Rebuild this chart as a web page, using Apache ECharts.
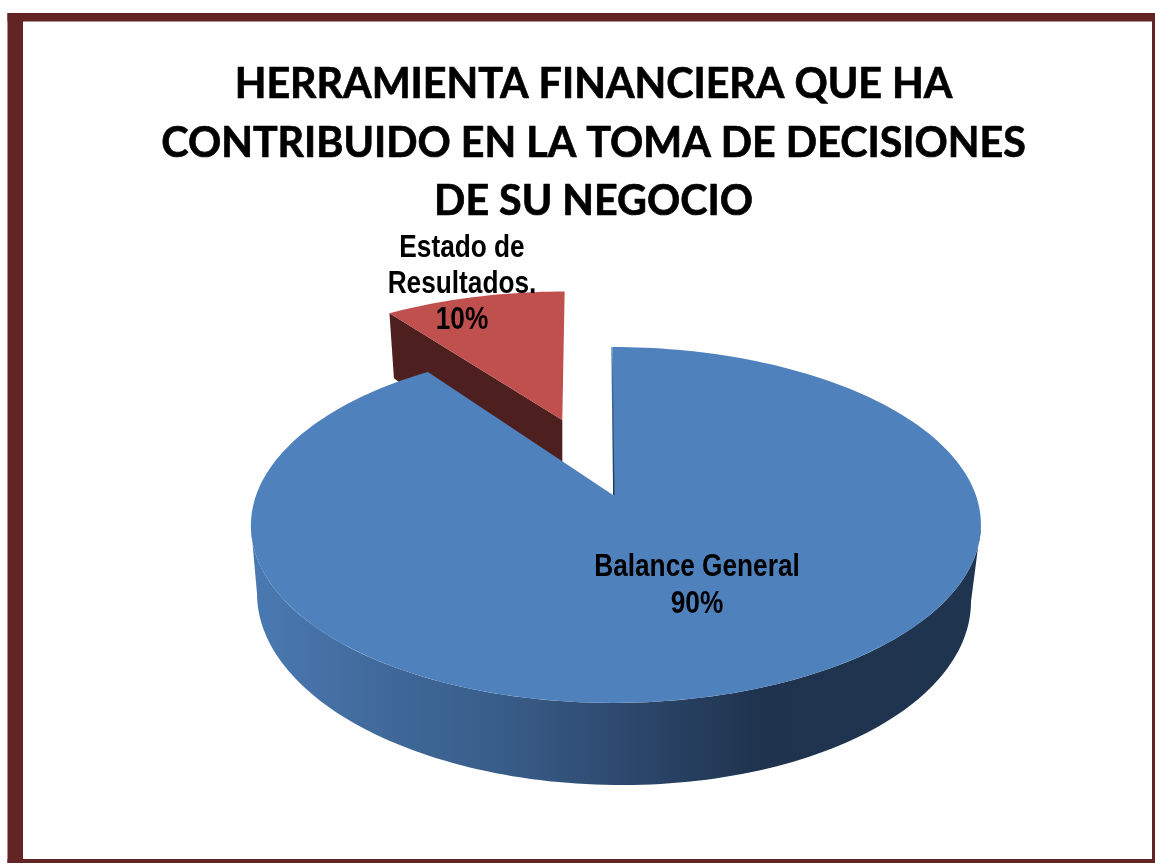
<!DOCTYPE html>
<html>
<head>
<meta charset="utf-8">
<style>html,body{margin:0;padding:0;background:#fff}#c{width:1155px;height:863px}</style>
<script src="https://cdn.jsdelivr.net/npm/echarts@6/dist/echarts.min.js"></script>
</head>
<body>
<div id="c"></div>
<script>
const titleText = 'HERRAMIENTA FINANCIERA QUE HA\nCONTRIBUIDO EN LA TOMA DE DECISIONES\nDE SU NEGOCIO';
const categories = ['Balance General', 'Estado de Resultados.'];
const labelNames = ['Balance General', 'Estado de\nResultados.'];
const values = [90, 10];
const explode = [0, 0.492];
const topColors = ['#4f81bd', '#c0504d'];
const sideColors = ['#1f3552', '#4d1f1e'];

// perspective projection of the pie disc (layout only)
const X0 = 613, Y0 = 495, H = 172.9, S = 359.8, K = 0.1685;
const LOW = { cx: 614, cy: 597.5, rx: 357, ry: 187.5, tilt: 4 };
const total = values.reduce((a, b) => a + b, 0);

function project(u, v, rim, exploded) {
  const d = 1 + K * v;
  const x = X0 + S * u / d + (rim && !exploded ? 3 * u * u : 0) - (rim && exploded ? 4.5 : 0);
  return [x, Y0 - H * v / d];
}
function rimPoint(tDeg, ox, oy) {
  const t = tDeg * Math.PI / 180;
  const u = Math.sin(t) + ox, v = Math.cos(t) + oy;
  return { u, v, p: project(u, v, true, ox !== 0 || oy !== 0) };
}
function arc(a, b, ox, oy) {
  const n = Math.max(2, Math.ceil(Math.abs(b - a) / 1.5));
  const out = [];
  for (let i = 0; i <= n; i++) out.push(rimPoint(a + (b - a) * i / n, ox, oy));
  return out;
}
function lowerArc() {
  const out = [];
  for (let a = 270; a >= 90; a -= 1.5) {
    const t = a * Math.PI / 180, s = Math.sin(t);
    out.push([LOW.cx + LOW.rx * s, LOW.cy - LOW.ry * Math.cos(t) + LOW.tilt * s]);
  }
  return out;
}

const sideGradient = new echarts.graphic.LinearGradient(251, 0, 981, 0, [
  { offset: 0, color: '#4a79b2' },
  { offset: 0.2, color: '#3f6898' },
  { offset: 0.35, color: '#385c88' },
  { offset: 0.5, color: '#2e4a70' },
  { offset: 0.7, color: '#1f334e' },
  { offset: 1, color: '#1f344e' }
], true);
const noticeLine = new echarts.graphic.LinearGradient(0, 347, 0, 495, [
  { offset: 0, color: '#4f81bd' },
  { offset: 0.3, color: '#3d6596' },
  { offset: 1, color: '#1f3552' }
], true);

function renderItem(params, api) {
  const i = params.dataIndex;
  let before = 0;
  for (let j = 0; j < i; j++) before += values[j];
  const a0 = before / total * 360;
  const a1 = (before + api.value(1)) / total * 360;
  const mid = (a0 + a1) / 2 * Math.PI / 180;
  const ox = explode[i] * Math.sin(mid), oy = explode[i] * Math.cos(mid);
  const isExploded = explode[i] > 0;
  const apex = project(ox, oy, false, isExploded);
  const rim = arc(a0, a1, ox, oy);
  const children = [];
  const z = isExploded ? 1 : 10;

  if (!isExploded) {
    // outer wall, between the two widest points of the disc
    const wall = arc(99.7, 260.3, ox, oy);
    const pts = wall.map(r => r.p).concat(lowerArc());
    children.push({ type: 'polygon', z2: z, shape: { points: pts }, style: { fill: sideGradient } });
  } else {
    // cut face at the start of the slice
    const r0 = rim[0].p;
    children.push({
      type: 'polygon', z2: z,
      shape: { points: [apex, r0, [r0[0] + 4.5, r0[1] + 65], [apex[0], apex[1] + 84]] },
      style: { fill: sideColors[i] }
    });
  }
  children.push({
    type: 'polygon', z2: z + 1,
    shape: { points: [apex].concat(rim.map(r => r.p)) },
    style: { fill: topColors[i] }
  });
  if (!isExploded) {
    children.push({
      type: 'polyline', z2: z + 2,
      shape: { points: [[612, 347], [613.8, 495]] },
      style: { stroke: noticeLine, fill: null, lineWidth: 1.4 }
    });
  }
  return { type: 'group', children };
}

const frame = '#632523';
const chart = echarts.init(document.getElementById('c'), null, { renderer: 'canvas' });
chart.setOption({
  animation: false,
  backgroundColor: '#fff',
  title: {
    text: titleText,
    left: 588.5, top: 51, textAlign: 'center',
    textStyle: {
      fontFamily: 'Lato', fontWeight: 'bold', fontSize: 41.2, lineHeight: 58.2, color: '#000',
      textBorderColor: '#000', textBorderWidth: 0.7
    }
  },
  graphic: [
    { type: 'rect', silent: true, shape: { x: 7.5, y: 13, width: 15.5, height: 850 }, style: { fill: frame } },
    { type: 'rect', silent: true, shape: { x: 7.5, y: 13, width: 1147.5, height: 8.5 }, style: { fill: frame } },
    { type: 'rect', silent: true, shape: { x: 1152, y: 13, width: 3, height: 850 }, style: { fill: frame } },
    { type: 'rect', silent: true, shape: { x: 7.5, y: 859, width: 1147.5, height: 4 }, style: { fill: frame } }
  ],
  series: [{
    type: 'custom',
    coordinateSystem: 'none',
    renderItem,
    data: categories.map((c, i) => ({ name: c, value: [i, values[i]] })),
    z: 2
  }, {
    type: 'custom',
    coordinateSystem: 'none',
    silent: true,
    z: 5,
    renderItem(params, api) {
      const i = params.dataIndex;
      const pos = [[697, 586], [462, 285]][i];
      return {
        type: 'text',
        x: pos[0], y: pos[1],
        scaleX: 0.86,
        style: {
          text: labelNames[i] + '\n' + api.value(1) + '%',
          fontFamily: '"Liberation Sans"',
          fontWeight: 'bold', fontSize: 30.5, lineHeight: i ? 36 : 37,
          fill: '#000', align: 'center', verticalAlign: 'middle'
        }
      };
    },
    data: categories.map((c, i) => ({ name: c, value: [i, values[i]] }))
  }]
});
</script>
</body>
</html>
